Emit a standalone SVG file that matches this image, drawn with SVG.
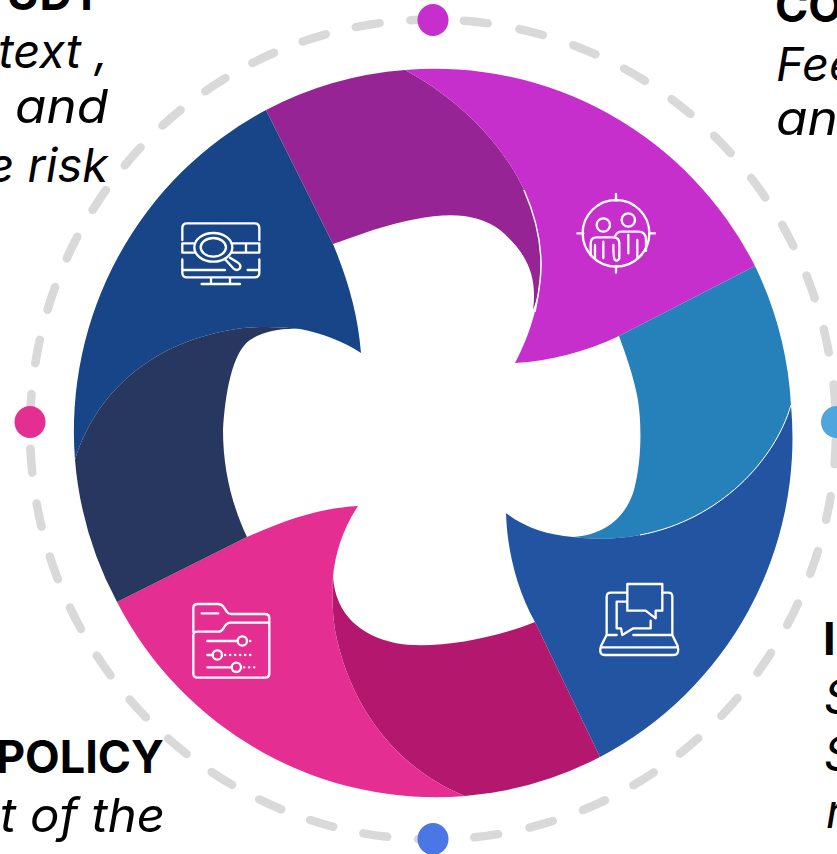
<svg xmlns="http://www.w3.org/2000/svg" width="837" height="854" viewBox="0 0 837 854">
<style>
.h{font-family:"Inter","Open Sans","Liberation Sans",sans-serif;font-weight:700;font-size:45px;fill:#000}
.b{font-family:"Inter","Open Sans","Liberation Sans",sans-serif;font-style:italic;font-weight:400;font-size:47px;fill:#000}
.e{text-anchor:end}
.i{fill:none;stroke:#fff;stroke-width:7;stroke-linecap:round;stroke-linejoin:round}
.d{stroke-dasharray:1 14}
.r{fill:none;stroke:#D9D9D9;stroke-width:8.5;stroke-linecap:round}
</style>
<rect width="837" height="854" fill="#fff"/>
<g id="connectors">
<path class="r" d="M433,19.5 A403,410 0 0 1 433,839.5" stroke-dasharray="24 32.2" stroke-dashoffset="-31"/>
<path class="r" d="M433,839.5 A403,410 0 0 1 433,19.5" stroke-dasharray="24 30.9" stroke-dashoffset="-46"/>
</g>
<g id="markers">
<ellipse cx="433" cy="20" rx="15.5" ry="16" fill="#C62FCC"/>
<ellipse cx="836.5" cy="422" rx="15.5" ry="16" fill="#4FA6DE"/>
<ellipse cx="433" cy="839" rx="15.5" ry="16" fill="#4B76E6"/>
<ellipse cx="30" cy="422" rx="15.5" ry="16" fill="#E42E91"/>
</g>
<g id="node-study">
<path d="M266,110 A359.5,363 0 0 1 405,70 C470,105 541,175 541,265 C541,285 537,300 533,310 C537,280 530,255 500,230 C470,208 430,213 373,230 L333,244 Z" fill="#962495"/>
<path d="M75,460 A359.5,363 0 0 1 266,110 L333,244 C348,280 358,315 361,353 C345,342 322,333 300,329 C283,327 265,326 243,328 C150,340 95,395 75,460 Z" fill="#184587"/>
<g transform="translate(150,190) scale(.3333)" class="i">
<path d="M97,150 V114 Q97,100 111,100 H314 Q328,100 328,114 V150 M97,208 V248 Q97,262 111,262 H314 Q328,262 328,248 V208 M100,240 H225 M293,240 H325 M183,262 V282 M240,262 V282 M155,282 H270"/>
<path d="M133,160 H97 V188 H133 M245,160 H328 V188 H245 M288,160 V188"/>
<ellipse cx="190" cy="172" rx="57" ry="43"/>
<ellipse cx="190" cy="172" rx="38" ry="28"/>
<path d="M225,208 L250,235 Q262,245 270,235 Q275,225 262,217 L240,203"/>
</g>
</g>
<g id="node-consult">
<path d="M405,70 A359.5,363 0 0 1 755,266 L619,336 C585,352 550,361 515,363 C530,335 541,300 541,265 C541,175 470,105 405,70 Z" fill="#C62FCC"/>
<path d="M524,190 C535,215 541,240 541,265 C541,285 537,300 535,312" fill="none" stroke="#fff" stroke-width="1.5"/>
<g transform="translate(560,180) scale(.3333)" class="i">
<circle cx="168" cy="160" r="100"/>
<path d="M168,42 V62 M168,258 V278 M52,160 H70 M268,160 H285"/>
<circle cx="130" cy="135" r="20"/>
<circle cx="205" cy="120" r="20"/>
<path d="M92,225 V190 Q92,172 110,172 H160 Q178,172 178,190 V235 Q172,245 165,240 Q160,235 160,195 M105,195 V235 M130,185 V235"/>
<path d="M165,172 V170 Q170,155 185,155 H235 Q258,155 258,180 V212 M205,165 V220 M232,180 V232"/>
</g>
</g>
<g id="node-inform">
<path d="M755,266 A359.5,363 0 0 1 791,405 C775,460 720,520 640,535 C615,540 590,539 573,537 C605,535 626,517 634,490 C642,460 642,420 637,395 C633,375 626,355 619,336 Z" fill="#2681BA"/>
<path d="M791,405 A358,360 0 0 1 600,757 L535,622 C517,590 507,550 506,513 C525,528 548,535 573,537 C590,539 615,540 640,535 C720,520 775,460 791,405 Z" fill="#2254A2"/>
<path d="M791,405 C775,460 720,520 640,535" fill="none" stroke="#fff" stroke-width="1"/>
<g transform="translate(585,570) scale(.3333)" class="i">
<path d="M65,195 V80 Q65,68 78,68 H125 M232,68 H250 Q262,68 262,80 V195 H145 M95,195 H65 L48,228 Q40,255 60,255 H265 Q285,255 278,228 L262,195 M48,232 H278"/>
<path d="M127,42 H232 V122 H212 V145 L182,122 H127 Z"/>
<path d="M125,95 H95 V175 H108 L112,195 L145,175 H197 V152"/>
</g>
</g>
<g id="node-policy">
<path d="M600,757 A359.5,363 0 0 1 465,796 C400,770 350,710 335,630 C332,610 332,590 333,577 C336,615 360,635 395,643 C430,650 490,640 535,622 Z" fill="#B3186E"/>
<path d="M465,796 A359.5,363 0 0 1 117,602 L247,537 C285,520 320,508 358,506 C342,530 335,555 333,577 C332,590 332,610 335,630 C350,710 400,770 465,796 Z" fill="#E42E91"/>
<path d="M117,602 A359.5,363 0 0 1 75,460 C95,395 150,340 243,328 C265,326 283,327 300,329 C280,328 262,332 250,340 C232,352 225,395 223,430 C223,470 232,505 247,537 Z" fill="#27375F"/>
<g transform="translate(175,590) scale(.3333)" class="i">
<path d="M55,125 V55 Q55,42 68,42 H130 Q140,42 147,52 L155,65 Q160,72 168,72 H270 Q283,72 283,85 V250 Q283,263 270,263 H68 Q55,263 55,250 V135 Q55,125 68,125 H130 Q140,125 147,112 Q155,98 168,98 H283 M80,70 H130"/>
<path d="M97,153 H188 M97,195 H113 M97,232 H170"/>
<circle cx="202" cy="153" r="14"/>
<circle cx="127" cy="195" r="14"/>
<circle cx="184" cy="232" r="14"/>
<path class="d" d="M225,153 H240 M150,195 H240 M207,232 H240"/>
</g>
</g>
<g id="labels">
<text class="h e" x="103" y="10">UDY</text>
<text class="b e" x="108" y="68">text ,</text>
<text class="b e" x="108" y="123" textLength="93" lengthAdjust="spacingAndGlyphs">and</text>
<text class="b e" x="108" y="182">e risk</text>
<text class="h" x="775" y="22">CO</text>
<text class="b" x="776" y="81">Fee</text>
<text class="b" x="776" y="135" textLength="62" lengthAdjust="spacingAndGlyphs">an</text>
<text class="h" x="823" y="655">I</text>
<text class="b" x="824" y="713">S</text>
<text class="b" x="824" y="770">S</text>
<text class="b" x="826" y="828">r</text>
<text class="h e" x="164" y="773">POLICY</text>
<text class="b e" x="165" y="832" textLength="165" lengthAdjust="spacingAndGlyphs">t of the</text>
</g>
</svg>
